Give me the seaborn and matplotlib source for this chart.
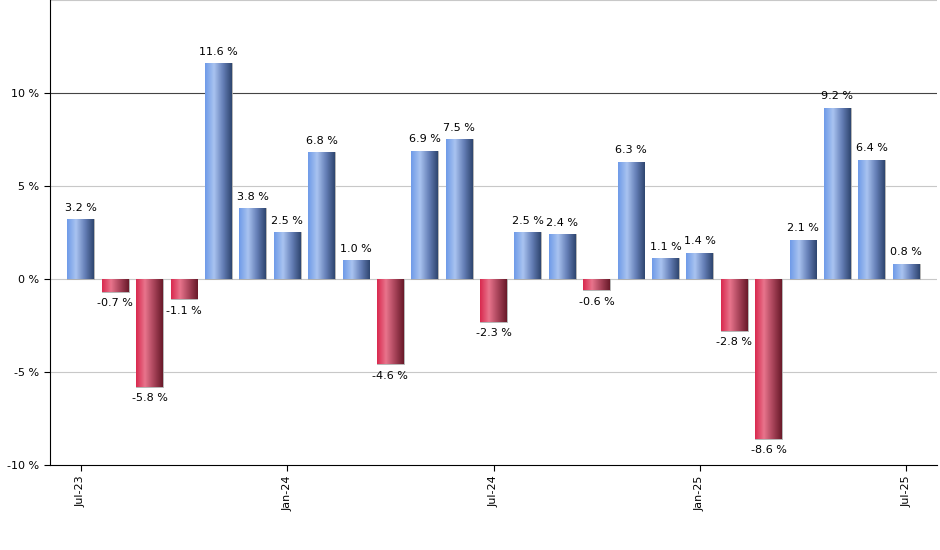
import matplotlib
matplotlib.use('Agg')
import matplotlib.pyplot as plt
from matplotlib.colors import LinearSegmentedColormap
import seaborn as sns
import pandas as pd
import numpy as np

months = ['Jul-23', 'Aug-23', 'Sep-23', 'Oct-23', 'Nov-23', 'Dec-23', 'Jan-24', 'Feb-24', 'Mar-24',
          'Apr-24', 'May-24', 'Jun-24', 'Jul-24', 'Aug-24', 'Sep-24', 'Oct-24', 'Nov-24', 'Dec-24',
          'Jan-25', 'Feb-25', 'Mar-25', 'Apr-25', 'May-25', 'Jun-25', 'Jul-25']
returns = [3.2, -0.7, -5.8, -1.1, 11.6, 3.8, 2.5, 6.8, 1.0, -4.6, 6.9, 7.5, -2.3, 2.5, 2.4,
           -0.6, 6.3, 1.1, 1.4, -2.8, -8.6, 2.1, 9.2, 6.4, 0.8]
tick_months = ['Jul-23', 'Jan-24', 'Jul-24', 'Jan-25', 'Jul-25']

df = pd.DataFrame({'month': months, 'ret': returns})

fig = plt.figure(figsize=(9.4, 5.5), dpi=100)
ax = fig.add_axes([0.053, 0.155, 0.944, 0.845])

sns.barplot(data=df, x='month', y='ret', width=0.78, color='white', ax=ax, zorder=3)

blue = LinearSegmentedColormap.from_list('b', ['#6f9be8', '#a9c3f0', '#6680b8', '#2f4670'])
red = LinearSegmentedColormap.from_list('r', ['#d92a4f', '#e8748c', '#a8445a', '#6a1a2a'])
grad = np.linspace(0, 1, 64).reshape(1, -1)
for p, v in zip(ax.patches, returns):
    x0, y0 = p.get_x(), p.get_y()
    w, h = p.get_width(), p.get_height()
    im = ax.imshow(grad, cmap=blue if v >= 0 else red, aspect='auto',
                   extent=[x0, x0 + w, y0, y0 + h], zorder=3)
    im.set_clip_path(p)
    p.set_edgecolor('#999999')
    p.set_linewidth(0.5)
    if v >= 0:
        ax.text(p.get_x() + w / 2, v + 0.35, f'{v:.1f} %', ha='center', va='bottom', fontsize=8)
    else:
        ax.text(p.get_x() + w / 2, v - 0.35, f'{v:.1f} %', ha='center', va='top', fontsize=8)

ax.set_xlim(-0.9, 24.9)
ax.set_ylim(-10, 15)
ax.set_yticks([-10, -5, 0, 5, 10])
ax.set_yticklabels(['-10 %', '-5 %', '0 %', '5 %', '10 %'], fontsize=8)
for yv in [-5, 0, 5, 15]:
    ax.axhline(yv, color='#c8c8c8', lw=0.8, zorder=1)
ax.axhline(10, color='#444444', lw=0.8, zorder=1)

ticks = [months.index(m) for m in tick_months]
ax.set_xticks(ticks)
ax.set_xticklabels(tick_months, rotation=90, fontsize=8)
ax.set_xlabel('')
ax.set_ylabel('')
for s in ['top', 'right']:
    ax.spines[s].set_visible(False)
ax.tick_params(length=4)

plt.savefig('out.png', dpi=100)
